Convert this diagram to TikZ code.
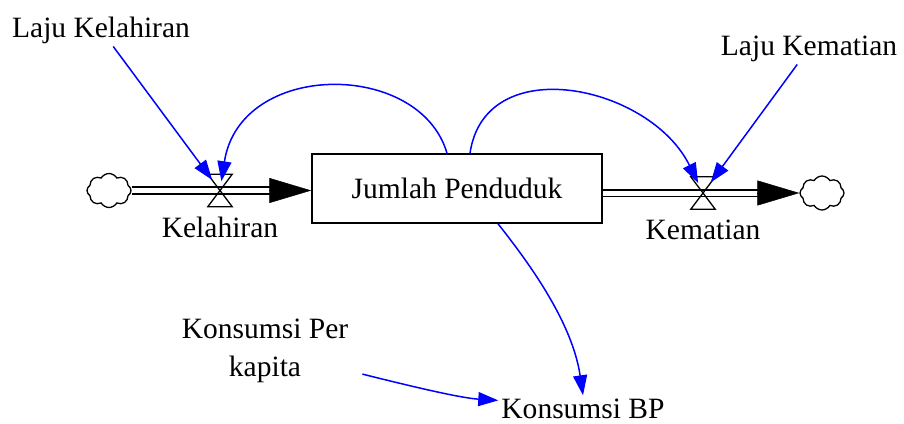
\documentclass[tikz,border=0pt]{standalone}
\usepackage{fontspec}
\setmainfont{Liberation Serif}
\usetikzlibrary{arrows.meta,shapes.symbols,calc}
\begin{document}
\begin{tikzpicture}[x=1pt,y=-1pt,
  txt/.style={font=\fontsize{29.5}{38}\selectfont, inner sep=3pt},
  stockbox/.style={draw, line width=1.5pt, minimum width=290pt, minimum height=69pt, fill=white, font=\fontsize{29.5}{38}\selectfont, inner sep=0pt},
  cloudnode/.style={cloud, cloud puffs=8, cloud puff arc=120, draw, fill=white, line width=1.3pt, minimum width=44pt, minimum height=34pt, inner sep=0pt, aspect=1.3},
  valvebox/.style={minimum width=24pt, minimum height=32pt, inner sep=0pt},
  valveline/.style={line width=1.3pt, line join=miter},
  pipe/.style={double distance=5pt, line width=1.8pt},
  flowtip/.style={-{Triangle[length=42pt,width=25pt]}, line width=0.5pt},
  infl/.style={draw=blue, line width=1.5pt, -{Triangle[length=20pt,width=14pt]}},
]
\useasboundingbox (0,0) rectangle (904,423);

\node[stockbox] (stock) at (457,188.5) {Jumlah Penduduk};
\node[cloudnode] (cl) at (109,190.5) {};
\node[cloudnode] (cr) at (822,193) {};
\node[valvebox] (vl) at (220,190.5) {};
\node[valvebox] (vr) at (703,193) {};

\node[txt, anchor=base] (kel) at (220,237) {Kelahiran};
\node[txt, anchor=base] (kem) at (703,239) {Kematian};
\node[txt, anchor=base] (lk) at (101,37) {Laju Kelahiran};
\node[txt, anchor=base] (lkm) at (809,55) {Laju Kematian};
\node[txt, anchor=base] (kbp) at (583,418) {Konsumsi BP};
\node[txt, align=center] (kp) at (265,351) {Konsumsi Per\\kapita};

% pipes
\draw[pipe] (cl.east) -- ([xshift=-41pt]cl.east -| stock.west);
\draw[flowtip] ([xshift=-42pt]cl.east -| stock.west) -- (cl.east -| stock.west);
\draw[pipe] (vr -| stock.east) -- ([xshift=-41pt]vr -| cr.west);
\draw[flowtip] ([xshift=-42pt]vr -| cr.west) -- (vr -| cr.west);

% valves
\draw[valveline] (vl.north west) -- (vl.north east) -- (vl.south west) -- (vl.south east) -- cycle;
\draw[valveline] (vr.north west) -- (vr.north east) -- (vr.south west) -- (vr.south east) -- cycle;

% influences
\draw[infl, shorten >=-7pt] (lk) -- (vl);
\draw[infl, shorten >=-7pt] (lkm) -- (vr);
\draw[infl, shorten >=-7pt] ([xshift=-10pt]stock.north) .. controls (420,60) and (240,60) .. (vl);
\draw[infl, shorten >=-7pt] ([xshift=13pt]stock.north) .. controls (485,50) and (650,85) .. (vr);
\draw[infl] ([xshift=41pt]stock.south) .. controls (525,258) and (572,320) .. (kbp.north);
\draw[infl] ([xshift=11pt,yshift=12pt]kp.south east) .. controls (410,386) and (460,398) .. ([yshift=8pt]kbp.west);
\end{tikzpicture}
\end{document}
